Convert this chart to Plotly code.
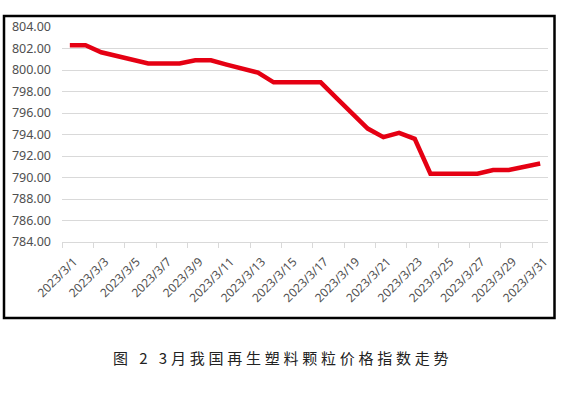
import plotly.graph_objects as go

dates = ["2023/3/%d" % d for d in range(1, 32)]
values = [802.3, 802.3, 801.65, 801.3, 800.95, 800.6, 800.6, 800.6, 800.9, 800.9,
          800.5, 800.1, 799.75, 798.85, 798.85, 798.85, 798.85, 797.4, 796.0, 794.55,
          793.75, 794.15, 793.6, 790.35, 790.35, 790.35, 790.35, 790.7, 790.7, 791.0,
          791.3]
caption_parts = ["图", "2", "3月我国再生塑料颗粒价格指数走势"]

gap = "\u2005"
caption = ("\u2002" + gap).join(caption_parts[:2]) + "\u2002" + gap + gap.join(caption_parts[2])

x_pos = list(range(1, len(dates) + 1))
tick_pos = x_pos[::2]
tick_txt = dates[::2]

W, H = 573, 395
L, R, T, B = 62, 25, 27, 153
pw, ph = W - L - R, H - T - B

def px_x(p):
    return (p - L) / pw

def px_y(p):
    return (H - B - p) / ph

fig = go.Figure()
fig.add_trace(go.Scatter(
    x=x_pos, y=values, mode="lines",
    line=dict(color="#e50013", width=4.5),
    hoverinfo="skip", showlegend=False,
))

fig.update_layout(
    width=W, height=H,
    margin=dict(l=L, r=R, t=T, b=B, autoexpand=False),
    paper_bgcolor="white", plot_bgcolor="white",
    font=dict(family="Noto Sans", color="#595959"),
    xaxis=dict(
        range=[0.5, 31.5], tickmode="array", tickvals=tick_pos, ticktext=tick_txt,
        tickangle=-45, ticks="", showgrid=False, zeroline=False, automargin=False,
        showline=True, linecolor="#d9d9d9", linewidth=1,
        ticklabelstandoff=7, ticklabelshift=4,
        tickfont=dict(size=12, color="#505050"),
        minor=dict(ticks="outside", tick0=0.5, dtick=2, ticklen=5,
                   tickcolor="#d9d9d9", tickwidth=1, showgrid=False),
    ),
    yaxis=dict(
        range=[784, 804], dtick=2, tick0=784, tickformat=".2f", automargin=False,
        showgrid=True, gridcolor="#d9d9d9", gridwidth=1, zeroline=False,
        showline=False, ticks="", ticklabelstandoff=10,
        tickfont=dict(size=12.5, color="#505050"),
    ),
    shapes=[dict(
        type="rect", xref="paper", yref="paper",
        x0=px_x(4), x1=px_x(554.5), y0=px_y(318), y1=px_y(16),
        line=dict(color="black", width=2.5), fillcolor="rgba(0,0,0,0)", layer="above",
    )],
    annotations=[dict(
        text=caption, xref="paper", yref="paper",
        x=px_x(280), y=px_y(357), xanchor="center", yanchor="middle",
        showarrow=False,
        font=dict(family="Noto Sans CJK SC", size=15, color="#222222"),
    )],
)

fig.write_html("out.html", config={"displayModeBar": False},
               post_script="document.body.style.margin='0';")
